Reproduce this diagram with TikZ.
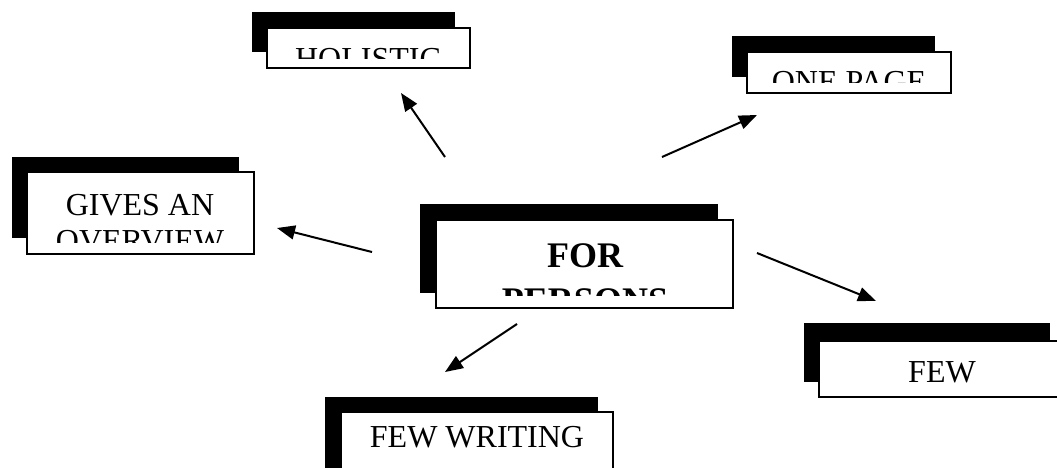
\documentclass[tikz,border=0pt]{standalone}
\usepackage{fontspec}
\setmainfont{Liberation Serif}
\usetikzlibrary{arrows.meta}

\tikzset{
    shadowbox/.style={fill=black},
    frontbox/.style={draw=black, line width=2pt, fill=white},
    boxtext/.style={font=\fontsize{32}{37}\selectfont, anchor=base, inner sep=0pt},
    bigtext/.style={font=\fontsize{36}{42}\selectfont\bfseries, anchor=base, inner sep=0pt},
    pointer/.style={line width=2pt, -{Triangle[length=18pt,width=14pt]}}
}

\begin{document}
\begin{tikzpicture}[x=1pt, y=-1pt]
    \useasboundingbox (0, 0) rectangle (1057, 467);
    \clip (0, 0) rectangle (1057, 467);

    % holistic
    \fill[shadowbox] (252, 12) rectangle (455, 52);
    \draw[frontbox] (267, 28) rectangle (470, 68);
    \begin{scope}
        \clip (268, 29) rectangle (469, 58);
        \node[boxtext] (holistic) at (368, 69) {HOLISTIC};
    \end{scope}

    % one page
    \fill[shadowbox] (732, 36) rectangle (935, 77);
    \draw[frontbox] (747, 52) rectangle (951, 93);
    \begin{scope}
        \clip (748, 53) rectangle (950, 82);
        \node[boxtext] (onepage) at (849, 92) {ONE PAGE};
    \end{scope}

    % overview
    \fill[shadowbox] (12, 157) rectangle (239, 238);
    \draw[frontbox] (27, 172) rectangle (254, 254);
    \begin{scope}
        \clip (28, 173) rectangle (253, 242);
        \node[boxtext] (gives) at (140, 215) {GIVES AN};
        \node[boxtext] (overview) at (140, 251) {OVERVIEW};
    \end{scope}

    % centre
    \fill[shadowbox] (420, 204) rectangle (718, 293);
    \draw[frontbox] (436, 220) rectangle (733, 308);
    \begin{scope}
        \clip (437, 221) rectangle (732, 295);
        \node[bigtext] (for) at (585, 267) {FOR};
        \node[bigtext] (persons) at (585, 312) {PERSONS};
    \end{scope}

    % few
    \fill[shadowbox] (804, 323) rectangle (1050, 382);
    \draw[frontbox] (819, 341) rectangle (1065, 397);
    \node[boxtext] (few) at (942, 382) {FEW};

    % few writing
    \fill[shadowbox] (325, 397) rectangle (598, 480);
    \draw[frontbox] (341, 412) rectangle (613, 495);
    \node[boxtext] (fewwriting) at (477, 447) {FEW WRITING};

    % arrows
    \coordinate (holisticFrom) at (445, 157);
    \coordinate (holisticTo) at (401, 93);
    \coordinate (onepageFrom) at (662, 157);
    \coordinate (onepageTo) at (757, 115);
    \coordinate (overviewFrom) at (372, 252);
    \coordinate (overviewTo) at (277, 228);
    \coordinate (fewFrom) at (757, 253);
    \coordinate (fewTo) at (876, 301);
    \coordinate (writingFrom) at (517, 324);
    \coordinate (writingTo) at (445, 372);
    \draw[pointer] (holisticFrom) -- (holisticTo);
    \draw[pointer] (onepageFrom) -- (onepageTo);
    \draw[pointer] (overviewFrom) -- (overviewTo);
    \draw[pointer] (fewFrom) -- (fewTo);
    \draw[pointer] (writingFrom) -- (writingTo);
\end{tikzpicture}
\end{document}
